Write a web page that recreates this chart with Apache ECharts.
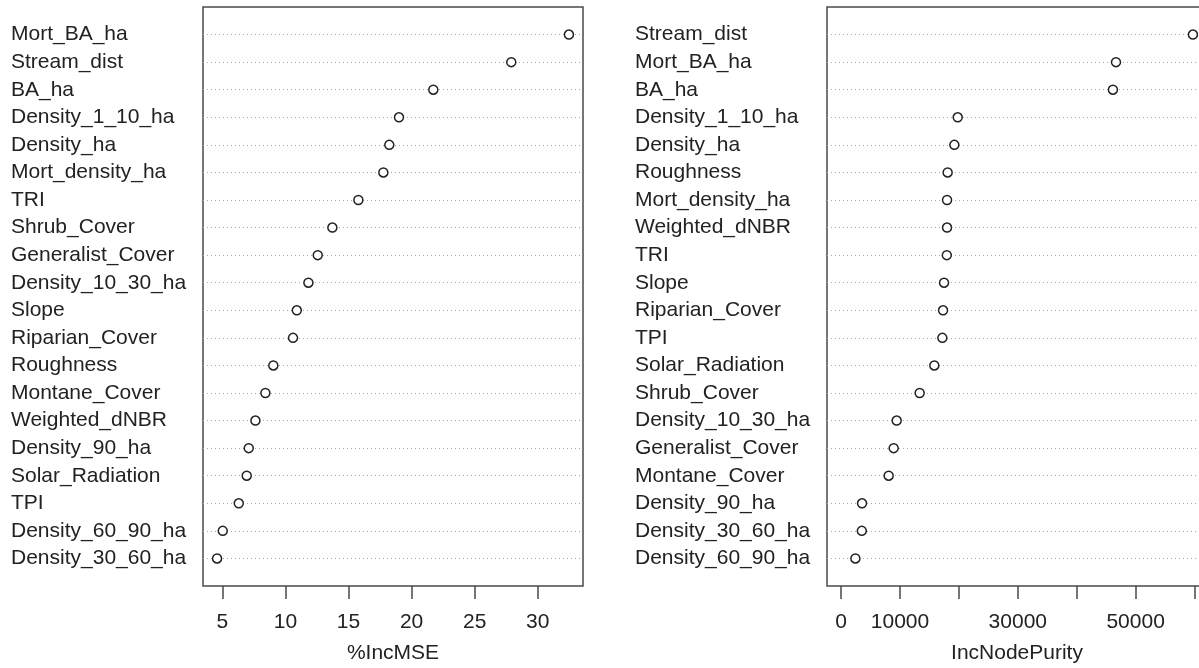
<!DOCTYPE html>
<html>
<head>
<meta charset="utf-8">
<title>Variable importance</title>
<script src="https://cdn.jsdelivr.net/npm/echarts@6/dist/echarts.min.js"></script>
<style>
  html, body { margin: 0; padding: 0; background: #fff; }
  #chart { width: 1199px; height: 668px; }
</style>
</head>
<body>
<div id="chart"></div>
<script>
// left panel, sorted top to bottom
const mseNames = [
  'Mort_BA_ha', 'Stream_dist', 'BA_ha', 'Density_1_10_ha', 'Density_ha',
  'Mort_density_ha', 'TRI', 'Shrub_Cover', 'Generalist_Cover', 'Density_10_30_ha',
  'Slope', 'Riparian_Cover', 'Roughness', 'Montane_Cover', 'Weighted_dNBR',
  'Density_90_ha', 'Solar_Radiation', 'TPI', 'Density_60_90_ha', 'Density_30_60_ha'
]
const mseValues = [
  32.47, 27.9, 21.72, 19.0, 18.23,
  17.76, 15.78, 13.72, 12.56, 11.82,
  10.9, 10.6, 9.04, 8.41, 7.62,
  7.09, 6.93, 6.3, 5.03, 4.58
]
const mseTicks = [5, 10, 15, 20, 25, 30]

// right panel, sorted top to bottom
const purityNames = [
  'Stream_dist', 'Mort_BA_ha', 'BA_ha', 'Density_1_10_ha', 'Density_ha',
  'Roughness', 'Mort_density_ha', 'Weighted_dNBR', 'TRI', 'Slope',
  'Riparian_Cover', 'TPI', 'Solar_Radiation', 'Shrub_Cover', 'Density_10_30_ha',
  'Generalist_Cover', 'Montane_Cover', 'Density_90_ha', 'Density_30_60_ha', 'Density_60_90_ha'
]
const purityValues = [
  59730, 46670, 46150, 19800, 19230,
  18090, 17990, 17990, 17950, 17480,
  17310, 17190, 15830, 13340, 9440,
  8930, 8080, 3560, 3520, 2430
]
const purityTicks = [0, 10000, 20000, 30000, 40000, 50000, 60000]
const purityTickLabels = [0, 10000, 30000, 50000]

const FONT = '"Liberation Sans", Arial, Helvetica, sans-serif'
const TEXT = '#222'
const BOX = '#4a4a4a'

// R pads the data range by 4% on each side
function padRange(lo, hi) {
  const d = (hi - lo) * 0.04
  return [lo - d, hi + d]
}

function yAxisFor(names, gridIndex) {
  const n = names.length
  return {
    type: 'value',
    gridIndex,
    min: 0,
    max: n + 1,
    interval: 1,
    axisLine: { show: false },
    axisTick: { show: false },
    splitLine: {
      show: true,
      showMinLine: false,
      showMaxLine: false,
      lineStyle: { color: '#a8a8a8', type: [1, 3], width: 1 },
    },
    axisLabel: {
      align: 'left',
      margin: 192,
      padding: [3, 0, 0, 0],
      color: TEXT,
      fontFamily: FONT,
      fontSize: 21,
      formatter: (v) => (v >= 1 && v <= n ? names[n - v] : ''),
    },
  }
}

function xAxisFor(range, ticks, labels, title, gridIndex) {
  return {
    type: 'value',
    gridIndex,
    min: range[0],
    max: range[1],
    axisLine: { show: false },
    splitLine: { show: false },
    axisTick: {
      show: true,
      length: 13,
      customValues: ticks,
      lineStyle: { color: BOX, width: 1.5 },
    },
    axisLabel: {
      customValues: labels,
      margin: 26,
      color: TEXT,
      fontFamily: FONT,
      fontSize: 21,
      formatter: (v) => String(v),
    },
    name: title,
    nameLocation: 'middle',
    nameGap: 57,
    nameTextStyle: { color: TEXT, fontFamily: FONT, fontSize: 21 },
  }
}

function seriesFor(names, values, idx) {
  const n = names.length
  return {
    type: 'scatter',
    xAxisIndex: idx,
    yAxisIndex: idx,
    symbol: 'circle',
    symbolSize: 9,
    itemStyle: { color: '#fff', borderColor: '#222', borderWidth: 1.5, opacity: 1 },
    emphasis: { disabled: true },
    data: values.map((v, i) => [v, n - i]),
  }
}

const chart = echarts.init(document.getElementById('chart'), undefined, { renderer: 'canvas' })
chart.setOption({
  backgroundColor: '#fff',
  animation: false,
  grid: [
    { left: 203, top: 7, width: 380, height: 579, outerBoundsMode: 'none', containLabel: false, show: true, borderColor: BOX, borderWidth: 1.5, backgroundColor: 'transparent' },
    { left: 827, top: 7, width: 380, height: 579, outerBoundsMode: 'none', containLabel: false, show: true, borderColor: BOX, borderWidth: 1.5, backgroundColor: 'transparent' },
  ],
  xAxis: [
    xAxisFor(padRange(Math.min(...mseValues), Math.max(...mseValues)), mseTicks, mseTicks, '%IncMSE', 0),
    xAxisFor(padRange(0, Math.max(...purityValues)), purityTicks, purityTickLabels, 'IncNodePurity', 1),
  ],
  yAxis: [
    yAxisFor(mseNames, 0),
    yAxisFor(purityNames, 1),
  ],
  series: [
    seriesFor(mseNames, mseValues, 0),
    seriesFor(purityNames, purityValues, 1),
  ],
})
</script>
</body>
</html>
